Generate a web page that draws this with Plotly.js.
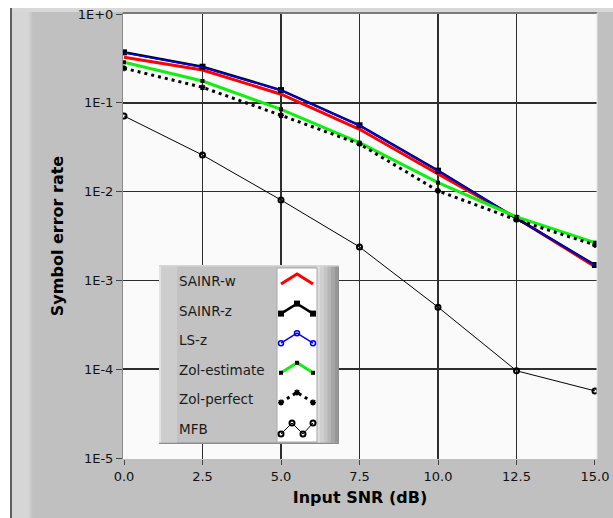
<!DOCTYPE html>
<html><head><meta charset="utf-8">
<script src="https://cdn.plot.ly/plotly-3.0.1.min.js"></script>
<style>
html,body{margin:0;padding:0;background:#fff;}
#wrap{position:relative;width:613px;height:518px;overflow:hidden;background:#fff;}
#frame{position:absolute;left:10px;top:8px;width:601px;height:510px;border-left:2px solid #5f5f5f;background:linear-gradient(to right,#d6d6d6 0,#d6d6d6 16px,#c9c9c9 19px,#c0c0c0 21px);}
#topband{position:absolute;left:12px;top:8px;width:601px;height:4px;background:#d8d8d8;}
#chart{position:absolute;left:0;top:0;width:613px;height:518px;}
</style></head>
<body><div id="wrap"><div id="frame"></div><div id="topband"></div><div id="chart"></div></div>
<script>
// ---- data ----
const snr = [0, 2.5, 5, 7.5, 10, 12.5, 15];
const sainrW  = [0.325, 0.234, 0.125, 0.0503, 0.0158, 0.00504, 0.00143];
const sainrZ  = [0.370, 0.255, 0.139, 0.0558, 0.0172, 0.00500, 0.00149];
const lsZ     = [0.365, 0.252, 0.137, 0.0551, 0.0170, 0.00495, 0.00147];
const zolEst  = [0.286, 0.176, 0.0845, 0.0356, 0.0126, 0.00520, 0.00266];
const zolPerf = [0.245, 0.1495, 0.0723, 0.0344, 0.0102, 0.00480, 0.00251];
const mfb     = [0.0710, 0.0258, 0.00804, 0.00238, 0.00050, 0.000096, 0.000057];
const seriesNames = ['SAINR-w', 'SAINR-z', 'LS-z', 'Zol-estimate', 'Zol-perfect', 'MFB'];
const seriesValues = [sainrW, sainrZ, lsZ, zolEst, zolPerf, mfb];
const xTickVals = [0, 2.5, 5, 7.5, 10, 12.5, 15];
const xTickText = ['0.0', '2.5', '5.0', '7.5', '10.0', '12.5', '15.0'];
const xGridVals = [2.5, 5, 7.5, 10, 12.5];
const yTickVals = [1, 0.1, 0.01, 0.001, 0.0001, 0.00001];
const yTickText = ['1E+0', '1E-1', '1E-2', '1E-3', '1E-4', '1E-5'];
const yGridVals = [0.1, 0.01, 0.001, 0.0001];
const xTitle = 'Input SNR (dB)';
const yTitle = 'Symbol error rate';

// ---- styles ----
const FONT = 'DejaVu Sans, sans-serif';
const styles = [
  {mode: 'lines', line: {color: '#ff0000', width: 3}},
  {mode: 'lines+markers', line: {color: '#000000', width: 2.5}, marker: {symbol: 'square', size: 6, color: '#000'}},
  {mode: 'lines', line: {color: '#0000ff', width: 1.5}, marker: {symbol: 'circle-open', size: 5, color: '#0000ff', line: {width: 1.5, color: '#0000ff'}}},
  {mode: 'lines+markers', line: {color: '#11ee11', width: 3}, marker: {symbol: 'square', size: 4, color: '#000'}},
  {mode: 'lines+markers', line: {color: '#000000', width: 3, dash: '3px,4px'}, marker: {symbol: 'asterisk-open', size: 5, line: {width: 1.5, color: '#000'}}},
  {mode: 'lines+markers', line: {color: '#000000', width: 1}, marker: {symbol: 'circle-open', size: 5, color: '#000', line: {width: 2, color: '#000'}}}
];

// plot area in pixels
const L = 123, R = 597, T = 13, B = 459;

const traces = seriesNames.map((name, i) => Object.assign({
  type: 'scatter', x: snr, y: seriesValues[i], name: name, showlegend: false,
  xaxis: 'x', yaxis: 'y', cliponaxis: true
}, JSON.parse(JSON.stringify(styles[i]))));

// ---- custom legend (text left, swatch right) on an overlay axis in pixel units ----
const LG = {x0: 159, x1: 339, y0: 265, y1: 444, row0: 281, step: 29.6, textX: 177};
seriesNames.forEach((name, i) => {
  const r = LG.row0 + LG.step * i;
  let sx, sy;
  if (name === 'MFB') { sx = [281, 292, 303, 313]; sy = [r + 5, r - 6, r + 5, r - 6]; }
  else { sx = [281, 297, 313]; sy = [r + 3, r - 7, r + 3]; }
  const st = JSON.parse(JSON.stringify(styles[i]));
  if (name === 'LS-z') st.mode = 'lines+markers';
  traces.push(Object.assign({type: 'scatter', x: sx, y: sy, xaxis: 'x2', yaxis: 'y2',
    showlegend: false, hoverinfo: 'skip', cliponaxis: false}, st));
});

const shapes = [];
function lrect(x0, x1, y0, y1, fill) {
  shapes.push({type: 'rect', xref: 'x2', yref: 'y2', layer: 'below', x0: x0, x1: x1, y0: y0, y1: y1,
    fillcolor: fill, line: {width: 0}});
}
lrect(LG.x0, LG.x1, LG.y0, LG.y1, '#8e8e8e');
lrect(LG.x0, LG.x1 - 1, LG.y0, LG.y1 - 1.5, '#c2c2c2');
lrect(LG.x0, LG.x0 + 2, LG.y0, LG.y1 - 1.5, '#e2e2e2');
lrect(LG.x0 + 2, 177, LG.y0, LG.y1 - 1.5, '#cdcdcd');
// bevel strips
const bev = ['#dcdcdc', '#d0d0d0', '#c4c4c4', '#b6b6b6', '#a6a6a6', '#969696'];
bev.forEach((c, k) => lrect(317 + k * 3.5, 317 + (k + 1) * 3.5, LG.y0, LG.y1 - 1.5, c));
lrect(LG.x0, LG.x1, LG.y0, LG.y0 + 1.5, '#d6d6d6');
// white swatch area
shapes.push({type: 'rect', xref: 'x2', yref: 'y2', layer: 'below', x0: 277, x1: 317, y0: 268, y1: 442,
  fillcolor: '#ffffff', line: {width: 1, color: '#a8a8a8'}});

// plot frame lines
shapes.push({type: 'line', xref: 'paper', yref: 'paper', x0: 0, x1: 1, y0: 1, y1: 1, line: {color: '#7a7a7a', width: 2}});
shapes.push({type: 'line', xref: 'paper', yref: 'paper', x0: 1, x1: 1, y0: 0, y1: 1, line: {color: '#e4e4e4', width: 1}});

const annotations = seriesNames.map((name, i) => ({
  xref: 'x2', yref: 'y2', x: LG.textX, y: LG.row0 + LG.step * i, xanchor: 'left', yanchor: 'middle',
  text: name, showarrow: false, font: {family: FONT, size: 13.5, color: '#1a1a1a'}
}));

const W = 613, H = 518;
const layout = {
  width: W, height: H,
  margin: {l: L, r: W - R, t: T, b: H - B, pad: 0},
  paper_bgcolor: 'rgba(0,0,0,0)',
  plot_bgcolor: '#fafafa',
  showlegend: false,
  font: {family: FONT, color: '#1a1a1a'},
  xaxis: {
    range: [-0.032, 15.064], fixedrange: true,
    tickmode: 'array', tickvals: xTickVals, ticktext: xTickText,
    showgrid: false, zeroline: false, showline: false,
    ticks: 'outside', ticklen: 5, tickwidth: 1, tickcolor: '#444',
    tickfont: {family: FONT, size: 13, color: '#111'},
    minor: {tickmode: 'array', tickvals: xGridVals, showgrid: true, gridcolor: '#2e2e2e', gridwidth: 1.5, ticks: ''},
    title: {text: '<b>' + xTitle + '</b>', font: {family: FONT, size: 16, color: '#000'}, standoff: 9}
  },
  yaxis: {
    type: 'log', range: [-5.0113, 0.0113], fixedrange: true,
    tickmode: 'array', tickvals: yTickVals, ticktext: yTickText,
    showgrid: false, zeroline: false, showline: true, linecolor: '#8a8a8a', linewidth: 1,
    ticks: 'outside', ticklen: 6, tickwidth: 1, tickcolor: '#444',
    tickfont: {family: FONT, size: 13, color: '#111'},
    minor: {tickmode: 'array', tickvals: yGridVals, showgrid: true, gridcolor: '#2e2e2e', gridwidth: 1.5, ticks: ''},
    title: {text: '<b>' + yTitle + '</b>', font: {family: FONT, size: 16, color: '#000'}, standoff: 10}
  },
  xaxis2: {domain: [(LG.x0 - L) / (R - L), (LG.x1 - L) / (R - L)], range: [LG.x0, LG.x1], visible: false, fixedrange: true, anchor: 'y2'},
  yaxis2: {domain: [(B - LG.y1) / (B - T), (B - LG.y0) / (B - T)], range: [LG.y1, LG.y0], visible: false, fixedrange: true, anchor: 'x2'},
  shapes: shapes,
  annotations: annotations
};

Plotly.newPlot('chart', traces, layout, {displayModeBar: false, staticPlot: true});
</script>
</body></html>
